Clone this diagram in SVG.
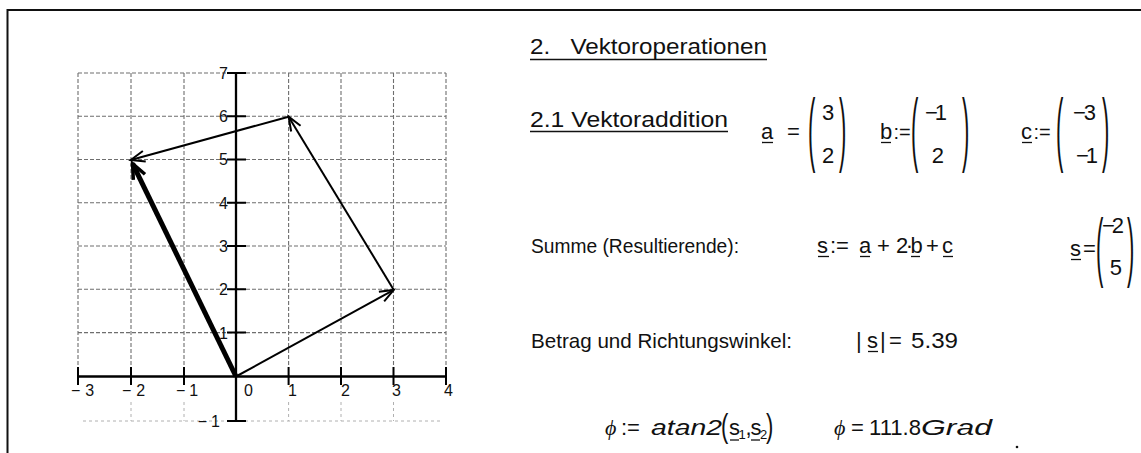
<svg xmlns="http://www.w3.org/2000/svg" width="1141" height="453" viewBox="0 0 1141 453">
<style>
.grid{stroke:#6e6e6e;stroke-width:1.1;stroke-dasharray:4 2;fill:none}
.faint{stroke:#b0b0b0;stroke-width:1;stroke-dasharray:3 3;fill:none}
.axis{stroke:#000;stroke-width:2.3;fill:none}
.tick{stroke:#000;stroke-width:2;fill:none}
.lbl{font-family:"Liberation Sans",Arial,sans-serif;font-size:16px;fill:#111}
.t{font-family:"Liberation Sans",Arial,sans-serif;font-size:21px;fill:#111}
.m{font-family:"Liberation Sans",Arial,sans-serif;font-size:22px;fill:#111}
.h{font-family:"Liberation Sans",Arial,sans-serif;font-size:22px;fill:#111}
.i{font-style:italic}
.phi{font-family:"Liberation Serif","DejaVu Serif",serif;font-style:italic;font-size:22px;fill:#111}
.sub{font-size:13px}
.ul{stroke:#111;stroke-width:1.3}
.hul{stroke:#111;stroke-width:1.5}
.vec{stroke:#000;stroke-width:2;fill:none;marker-end:url(#arr)}
.vecs{stroke:#000;stroke-width:5;fill:none;marker-end:url(#arrs)}
</style>
<defs>
<marker id="arr" markerUnits="userSpaceOnUse" markerWidth="1" markerHeight="1" orient="auto" overflow="visible">
<path d="M-14,-5.5 L0,0 L-14,5.5" fill="none" stroke="#000" stroke-width="2"/>
</marker>
<marker id="arrs" markerUnits="userSpaceOnUse" markerWidth="1" markerHeight="1" orient="auto" overflow="visible">
<path d="M-15,-6.5 L0,0 L-15,6.5" fill="none" stroke="#000" stroke-width="3.5"/>
</marker>
</defs>
<rect width="1141" height="453" fill="#fff"/>
<path d="M7.5,453 L7.5,10 L1141,10" fill="none" stroke="#111" stroke-width="2"/>

<g id="plot">
<g id="grid">
<path class="grid" d="M78,73H446 M78,116.2H446 M78,159.5H446 M78,202.8H446 M78,246H446 M78,289.3H446 M78,332.6H446"/>
<path class="grid" d="M78,73V365 M131,73V365 M184,73V365 M288.6,73V365 M341,73V365 M393.5,73V365 M446,73V365"/>
<path class="faint" d="M83,421H440 M131,402V421 M184,402V421 M288.6,402V421 M341,402V421 M393.5,402V421"/>
</g>
<g id="axes">
<path class="axis" d="M78,376.5H446"/>
<path class="axis" d="M236,73V421" stroke-width="2.6"/>
<path class="tick" d="M78,367V385 M131,367V385 M184,367V385 M288.6,367V385 M341,367V385 M393.5,367V385 M446,367V385"/>
<path class="tick" d="M227,73H246 M227,116.2H246 M227,159.5H246 M227,202.8H246 M227,246H246 M227,289.3H246 M227,332.6H246 M227,421H246"/>
</g>
<g id="ylabels" class="lbl" text-anchor="end">
<text x="228" y="79">7</text>
<text x="228" y="122">6</text>
<text x="228" y="165">5</text>
<text x="228" y="208.5">4</text>
<text x="228" y="252">3</text>
<text x="228" y="295">2</text>
<text x="228" y="338.5">1</text>
<text x="224" y="427" letter-spacing="4">−1</text>
</g>
<g id="xlabels" class="lbl">
<text x="71" y="396" letter-spacing="5">−3</text>
<text x="122" y="396" letter-spacing="5">−2</text>
<text x="176" y="396" letter-spacing="4">−1</text>
<text x="244" y="396">0</text>
<text x="288" y="396">1</text>
<text x="341" y="396">2</text>
<text x="392" y="396">3</text>
<text x="444" y="396">4</text>
</g>
</g>

<g id="vectors">
<line class="vec" x1="236" y1="376.5" x2="393.8" y2="289.9"/>
<line class="vec" x1="393.8" y1="289.9" x2="288.6" y2="116.7"/>
<line class="vec" x1="288.6" y1="116.7" x2="130.8" y2="160"/>
<line class="vecs" x1="236" y1="376.5" x2="132.6" y2="163.6"/>
</g>

<g id="heading">
<text class="h" x="530" y="54" xml:space="preserve" textLength="237" lengthAdjust="spacingAndGlyphs">2.   Vektoroperationen</text>
<line class="hul" x1="530" y1="59.5" x2="767" y2="59.5"/>
</g>

<g id="vektoraddition">
<text class="h" x="530" y="127" textLength="198" lengthAdjust="spacingAndGlyphs">2.1 Vektoraddition</text>
<line class="hul" x1="530" y1="131.5" x2="728" y2="131.5"/>
<text class="m" y="139"><tspan x="761">a</tspan><tspan x="787">=</tspan></text>
<line class="ul" x1="762" y1="142.5" x2="773" y2="142.5"/>
<text class="m" transform="translate(808,156) scale(1,3.67)" font-size="24">(</text>
<text class="m" transform="translate(839,156) scale(1,3.67)" font-size="24">)</text>
<text class="m" x="828" y="120" text-anchor="middle">3</text>
<text class="m" x="828" y="163" text-anchor="middle">2</text>

<text class="m" y="139"><tspan x="880">b</tspan><tspan x="893.5" font-size="20">:=</tspan></text>
<line class="ul" x1="881" y1="142.5" x2="891" y2="142.5"/>
<text class="m" transform="translate(911,156) scale(1,3.67)" font-size="24">(</text>
<text class="m" transform="translate(962,156) scale(1,3.67)" font-size="24">)</text>
<text class="m" x="944" y="120" text-anchor="end" letter-spacing="-3">−1</text>
<text class="m" x="944" y="163" text-anchor="end">2</text>

<text class="m" y="139"><tspan x="1021">c</tspan><tspan x="1033.5" font-size="20">:=</tspan></text>
<line class="ul" x1="1022" y1="142.5" x2="1032" y2="142.5"/>
<text class="m" transform="translate(1056,156) scale(1,3.67)" font-size="24">(</text>
<text class="m" transform="translate(1102,156) scale(1,3.67)" font-size="24">)</text>
<text class="m" x="1094" y="120" text-anchor="end" letter-spacing="-2">−3</text>
<text class="m" x="1095" y="163" text-anchor="end" letter-spacing="-3">−1</text>
</g>

<g id="summe">
<text class="t" x="531" y="253" textLength="208" lengthAdjust="spacingAndGlyphs">Summe (Resultierende):</text>
<text class="m" y="253"><tspan x="817">s</tspan><tspan x="830">:=</tspan><tspan x="859">a</tspan><tspan x="877">+</tspan><tspan x="896" letter-spacing="-2.5">2·b</tspan><tspan x="926">+</tspan><tspan x="942">c</tspan></text>
<line class="ul" x1="818" y1="256.5" x2="829" y2="256.5"/>
<line class="ul" x1="860" y1="256.5" x2="870" y2="256.5"/>
<line class="ul" x1="911" y1="256.5" x2="920" y2="256.5"/>
<line class="ul" x1="943" y1="256.5" x2="953" y2="256.5"/>
<text class="m" y="256"><tspan x="1070">s</tspan><tspan x="1083">=</tspan></text>
<line class="ul" x1="1071" y1="259.5" x2="1081" y2="259.5"/>
<text class="m" transform="translate(1096,272.4) scale(1,3.45)" font-size="24">(</text>
<text class="m" transform="translate(1127,272.4) scale(1,3.45)" font-size="24">)</text>
<text class="m" x="1121" y="233" text-anchor="end" letter-spacing="-3" font-size="20">−2</text>
<text class="m" x="1122" y="275" text-anchor="end">5</text>
</g>

<g id="betrag">
<text class="t" x="531" y="348" textLength="261" lengthAdjust="spacingAndGlyphs">Betrag und Richtungswinkel:</text>
<text class="m" y="348"><tspan x="856">|</tspan><tspan x="867">s</tspan><tspan x="880">|</tspan><tspan x="889">=</tspan></text>
<text class="m" x="911" y="348" textLength="47" lengthAdjust="spacingAndGlyphs">5.39</text>
<line class="ul" x1="868" y1="351.5" x2="878" y2="351.5"/>
</g>

<g id="winkel">
<text class="phi" x="605" y="435">ϕ</text>
<text class="m" x="621" y="435">:=</text>
<text class="m i" x="651" y="435" textLength="71" lengthAdjust="spacingAndGlyphs">atan2</text>
<text class="m" transform="translate(721,437) scale(1,1.55)">(</text>
<text class="m" y="435"><tspan x="729">s</tspan><tspan class="sub" x="738.5" dy="4">1</tspan><tspan x="745.5" dy="-4">,</tspan><tspan x="750.5">s</tspan><tspan class="sub" x="760" dy="4">2</tspan></text>
<text class="m" transform="translate(766,437) scale(1,1.55)">)</text>
<line class="ul" x1="730" y1="440" x2="739" y2="440"/>
<line class="ul" x1="751" y1="440" x2="760" y2="440"/>
<text class="phi" x="834" y="435">ϕ</text>
<text class="m" x="851" y="435">=</text>
<text class="m" x="869" y="435" textLength="52" lengthAdjust="spacingAndGlyphs">111.8</text>
<text class="m i" x="921" y="435" textLength="71" lengthAdjust="spacingAndGlyphs">Grad</text>
<circle cx="1017" cy="447" r="1.3" fill="#111"/>
</g>
</svg>
